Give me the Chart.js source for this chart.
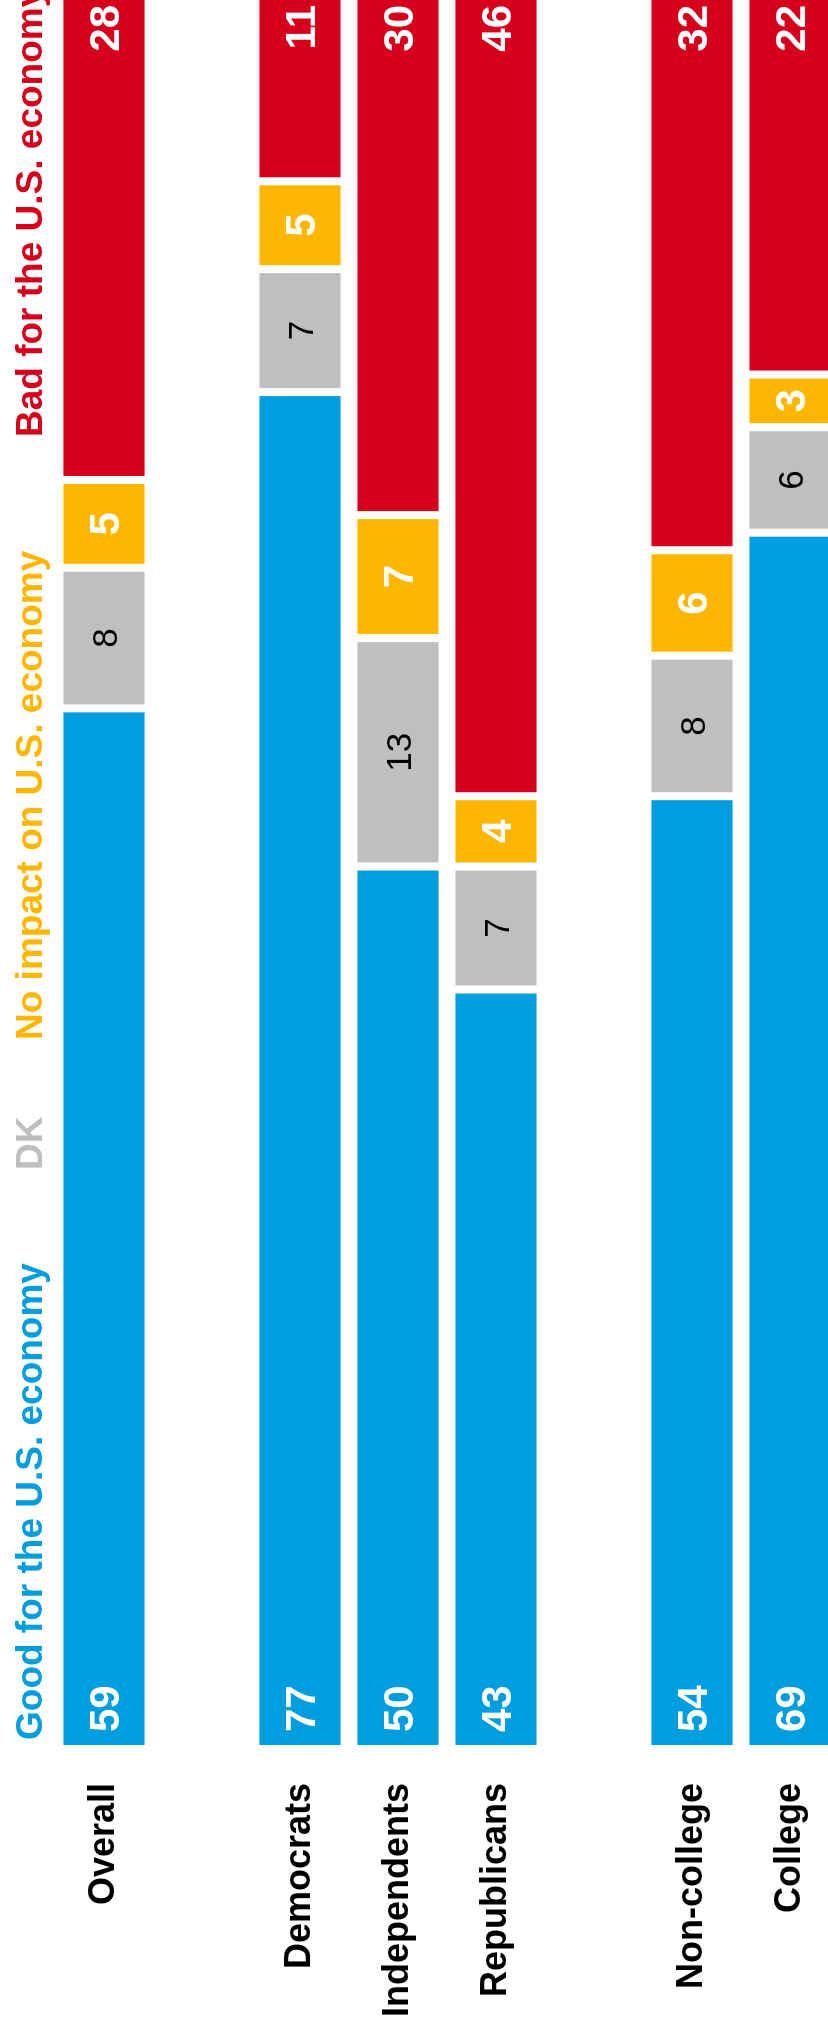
<!DOCTYPE html>
<html>
<head>
<meta charset="utf-8">
<script src="https://cdn.jsdelivr.net/npm/chart.js@4.4.1/dist/chart.umd.min.js"></script>
<style>
    html, body { margin: 0; padding: 0; background: #fff; }
    #wrap { position: relative; width: 828px; height: 2036px; overflow: hidden; background: #fff; }
    /* chart is drawn lying down, then turned a quarter turn left */
    #chart { position: absolute; left: 0; top: 0; transform-origin: 0 0; transform: translate(0, 2036px) rotate(-90deg); }
</style>
</head>
<body>
<div id="wrap"><canvas id="chart" width="2060" height="860"></canvas></div>
<script>
var categories = ['Overall', '', 'Democrats', 'Independents', 'Republicans', '', 'Non-college', 'College'];
var goodValues = [59, null, 77, 50, 43, null, 54, 69];
var dkValues = [8, null, 7, 13, 7, null, 8, 6];
var noImpactValues = [5, null, 5, 7, 4, null, 6, 3];
var badValues = [28, null, 11, 30, 46, null, 32, 22];
var seriesNames = ['Good for the U.S. economy', 'DK', 'No impact on U.S. economy', 'Bad for the U.S. economy'];
var seriesColors = ['#009ddf', '#bfbfbd', '#ffb600', '#d6001c'];

var fontFamily = '"Liberation Sans", Arial, Helvetica, sans-serif';

// where each legend entry starts along the value direction (canvas px)
var legendStarts = [296, 866, 996, 1599];

var legendPlugin = {
    id: 'sideLegend',
    afterDraw: function (chart) {
        var ctx = chart.ctx;
        ctx.save();
        ctx.font = 'bold 37px ' + fontFamily;
        ctx.textAlign = 'left';
        ctx.textBaseline = 'alphabetic';
        seriesNames.forEach(function (name, i) {
            ctx.fillStyle = seriesColors[i];
            ctx.fillText(name, legendStarts[i], 42);
        });
        ctx.restore();
    }
};

var labelPlugin = {
    id: 'segmentLabels',
    afterDatasetsDraw: function (chart) {
        var ctx = chart.ctx;
        var place = ['start', 'center', 'center', 'end'];
        var colors = ['#ffffff', '#000000', '#ffffff', '#ffffff'];
        var fonts = ['bold 42px ', '35px ', 'bold 42px ', 'bold 42px '];
        var sizes = [42, 35, 42, 42];
        ctx.save();
        chart.data.datasets.forEach(function (ds, i) {
            var meta = chart.getDatasetMeta(i);
            ctx.font = fonts[i] + fontFamily;
            ctx.fillStyle = colors[i];
            ctx.textBaseline = 'alphabetic';
            meta.data.forEach(function (el, j) {
                var v = ds.data[j];
                if (v === null || v === undefined) return;
                var p = el.getProps(['x', 'y', 'base'], true);
                var yy = p.y + sizes[i] * 0.358;
                if (place[i] === 'start') {
                    ctx.textAlign = 'left';
                    ctx.fillText(String(v), p.base + 13, yy);
                } else if (place[i] === 'end') {
                    ctx.textAlign = 'right';
                    ctx.fillText(String(v), p.x - 17, yy);
                } else {
                    ctx.textAlign = 'center';
                    ctx.fillText(String(v), (p.base + p.x) / 2, yy);
                }
            });
        });
        ctx.restore();
    }
};

var valueSets = [goodValues, dkValues, noImpactValues, badValues];

var datasets = valueSets.map(function (vals, i) {
    return {
        label: seriesNames[i],
        data: vals,
        backgroundColor: seriesColors[i],
        borderColor: '#ffffff',
        borderWidth: i === 0 ? { left: 0, right: 4, top: 0, bottom: 0 } : { left: 4, right: 4, top: 0, bottom: 0 },
        borderSkipped: false,
        barPercentage: 0.832,
        categoryPercentage: 1.0
    };
});

var chart = new Chart(document.getElementById('chart'), {
    type: 'bar',
    data: {
        labels: categories,
        datasets: datasets
    },
    options: {
        indexAxis: 'y',
        responsive: false,
        animation: false,
        layout: {
            padding: { left: 0, right: 12, top: 55, bottom: 21 }
        },
        plugins: {
            legend: { display: false },
            tooltip: { enabled: false },
            title: { display: false }
        },
        scales: {
            x: {
                stacked: true,
                min: 0,
                max: 100,
                display: false
            },
            y: {
                stacked: true,
                grid: { display: false, drawTicks: false },
                border: { display: false },
                ticks: {
                    autoSkip: false,
                    padding: 38,
                    color: '#000000',
                    font: { family: fontFamily, size: 36, weight: 'bold' }
                },
                afterFit: function (scale) {
                    scale.width = 291;
                    // keep the label padding from pushing the bars inward
                    scale.paddingTop = 0;
                    scale.paddingBottom = 0;
                }
            }
        }
    },
    plugins: [legendPlugin, labelPlugin]
});
</script>
</body>
</html>
